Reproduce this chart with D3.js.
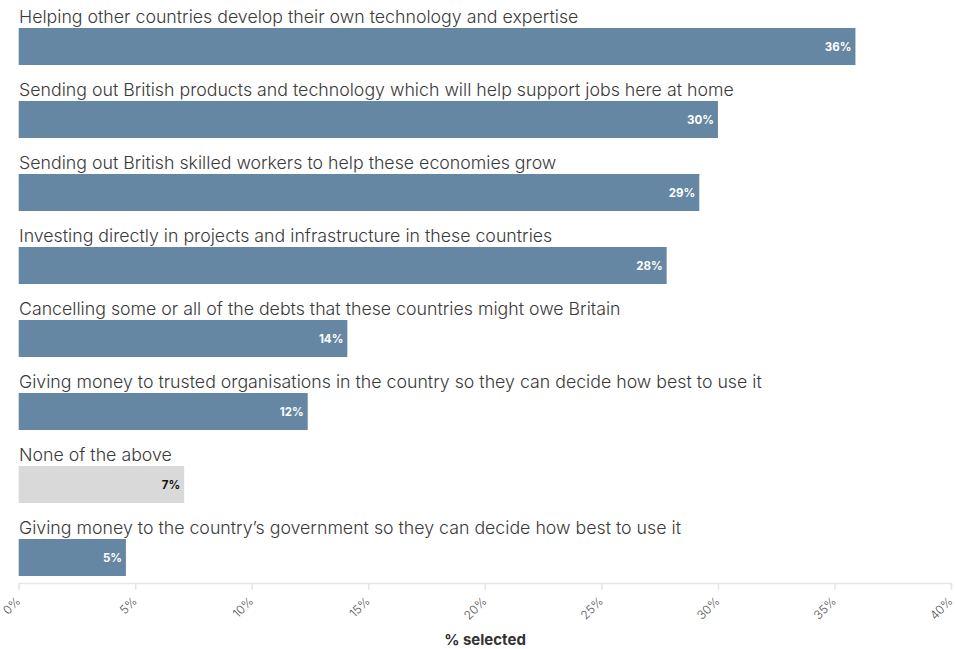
<!DOCTYPE html>
<html>
<head>
<meta charset="utf-8">
<script src="https://cdn.jsdelivr.net/npm/d3@7"></script>
<style>
  html, body { margin: 0; padding: 0; background: #fff; }
  svg { display: block; }
  text { font-family: Inter, "Open Sans", sans-serif; }
</style>
</head>
<body>
<svg id="chart" width="955" height="649"></svg>
<script>
// Survey answers, in display order
const answers = [
  "Helping other countries develop their own technology and expertise",
  "Sending out British products and technology which will help support jobs here at home",
  "Sending out British skilled workers to help these economies grow",
  "Investing directly in projects and infrastructure in these countries",
  "Cancelling some or all of the debts that these countries might owe Britain",
  "Giving money to trusted organisations in the country so they can decide how best to use it",
  "None of the above",
  "Giving money to the country\u2019s government so they can decide how best to use it"
];
// Share of respondents selecting each answer (%)
const shares = [35.9, 30.0, 29.2, 27.8, 14.1, 12.4, 7.1, 4.6];
// Answers that are not a substantive option
const neutralAnswers = ["None of the above"];
// Axis ticks (%)
const axisTicks = [0, 5, 10, 15, 20, 25, 30, 35, 40];
const axisTitle = "% selected";

const W = 955, H = 649;
const margin = { left: 19, right: 4 };
const svg = d3.select("#chart");

const x = d3.scaleLinear().domain([0, 40]).range([margin.left - 0.3, W - margin.right]);
const band = d3.scaleBand().domain(answers).range([0, 584]).paddingInner(0).paddingOuter(0);
const barTop = 28, barH = 37;
const fmt = v => d3.format(".0f")(v) + "%";

const rows = svg.append("g").selectAll("g")
  .data(answers.map((a, i) => ({ answer: a, value: shares[i] })))
  .join("g")
  .attr("transform", d => `translate(0,${band(d.answer)})`);

const labels = rows.append("text")
  .attr("x", margin.left)
  .attr("y", 23)
  .attr("fill", "#3a3a3a")
  .attr("font-size", 16)
  .attr("font-weight", 300)
  .text(d => d.answer);

// Size the answer text so the first line spans the intended width
const firstLen = labels.node().getComputedTextLength();
labels.attr("font-size", 16 * 560 / firstLen);

rows.append("rect")
  .attr("x", x(0))
  .attr("y", barTop)
  .attr("width", d => x(d.value) - x(0))
  .attr("height", barH)
  .attr("fill", d => neutralAnswers.includes(d.answer) ? "#d9d9d9" : "#6587a3");

rows.append("text")
  .attr("x", d => x(d.value) - 4)
  .attr("y", barTop + barH / 2 + 4.5)
  .attr("text-anchor", "end")
  .attr("font-size", 11.5)
  .attr("font-weight", 700)
  .attr("fill", d => neutralAnswers.includes(d.answer) ? "#111" : "#fff")
  .text(d => fmt(d.value));

// Bottom axis
const axisY = 583;
const axis = svg.append("g")
  .attr("transform", `translate(0,${axisY})`)
  .call(d3.axisBottom(x).tickValues(axisTicks).tickFormat(d => d + "%").tickSize(7));
axis.select(".domain").attr("stroke", "#e6e6e6").attr("stroke-width", 1.5);
axis.selectAll(".tick line").attr("stroke", "#e6e6e6").attr("stroke-width", 1.5);
axis.selectAll(".tick text")
  .attr("font-family", "Inter, sans-serif")
  .attr("font-size", 12)
  .attr("font-weight", 300)
  .attr("fill", "#555")
  .attr("text-anchor", "end")
  .attr("x", 0)
  .attr("y", 0)
  .attr("dy", 0)
  .attr("transform", "translate(2,19) rotate(-45)");

svg.append("text")
  .attr("x", 485)
  .attr("y", 645)
  .attr("text-anchor", "middle")
  .attr("font-size", 15)
  .attr("font-weight", 700)
  .attr("fill", "#333")
  .text(axisTitle);
</script>
</body>
</html>
